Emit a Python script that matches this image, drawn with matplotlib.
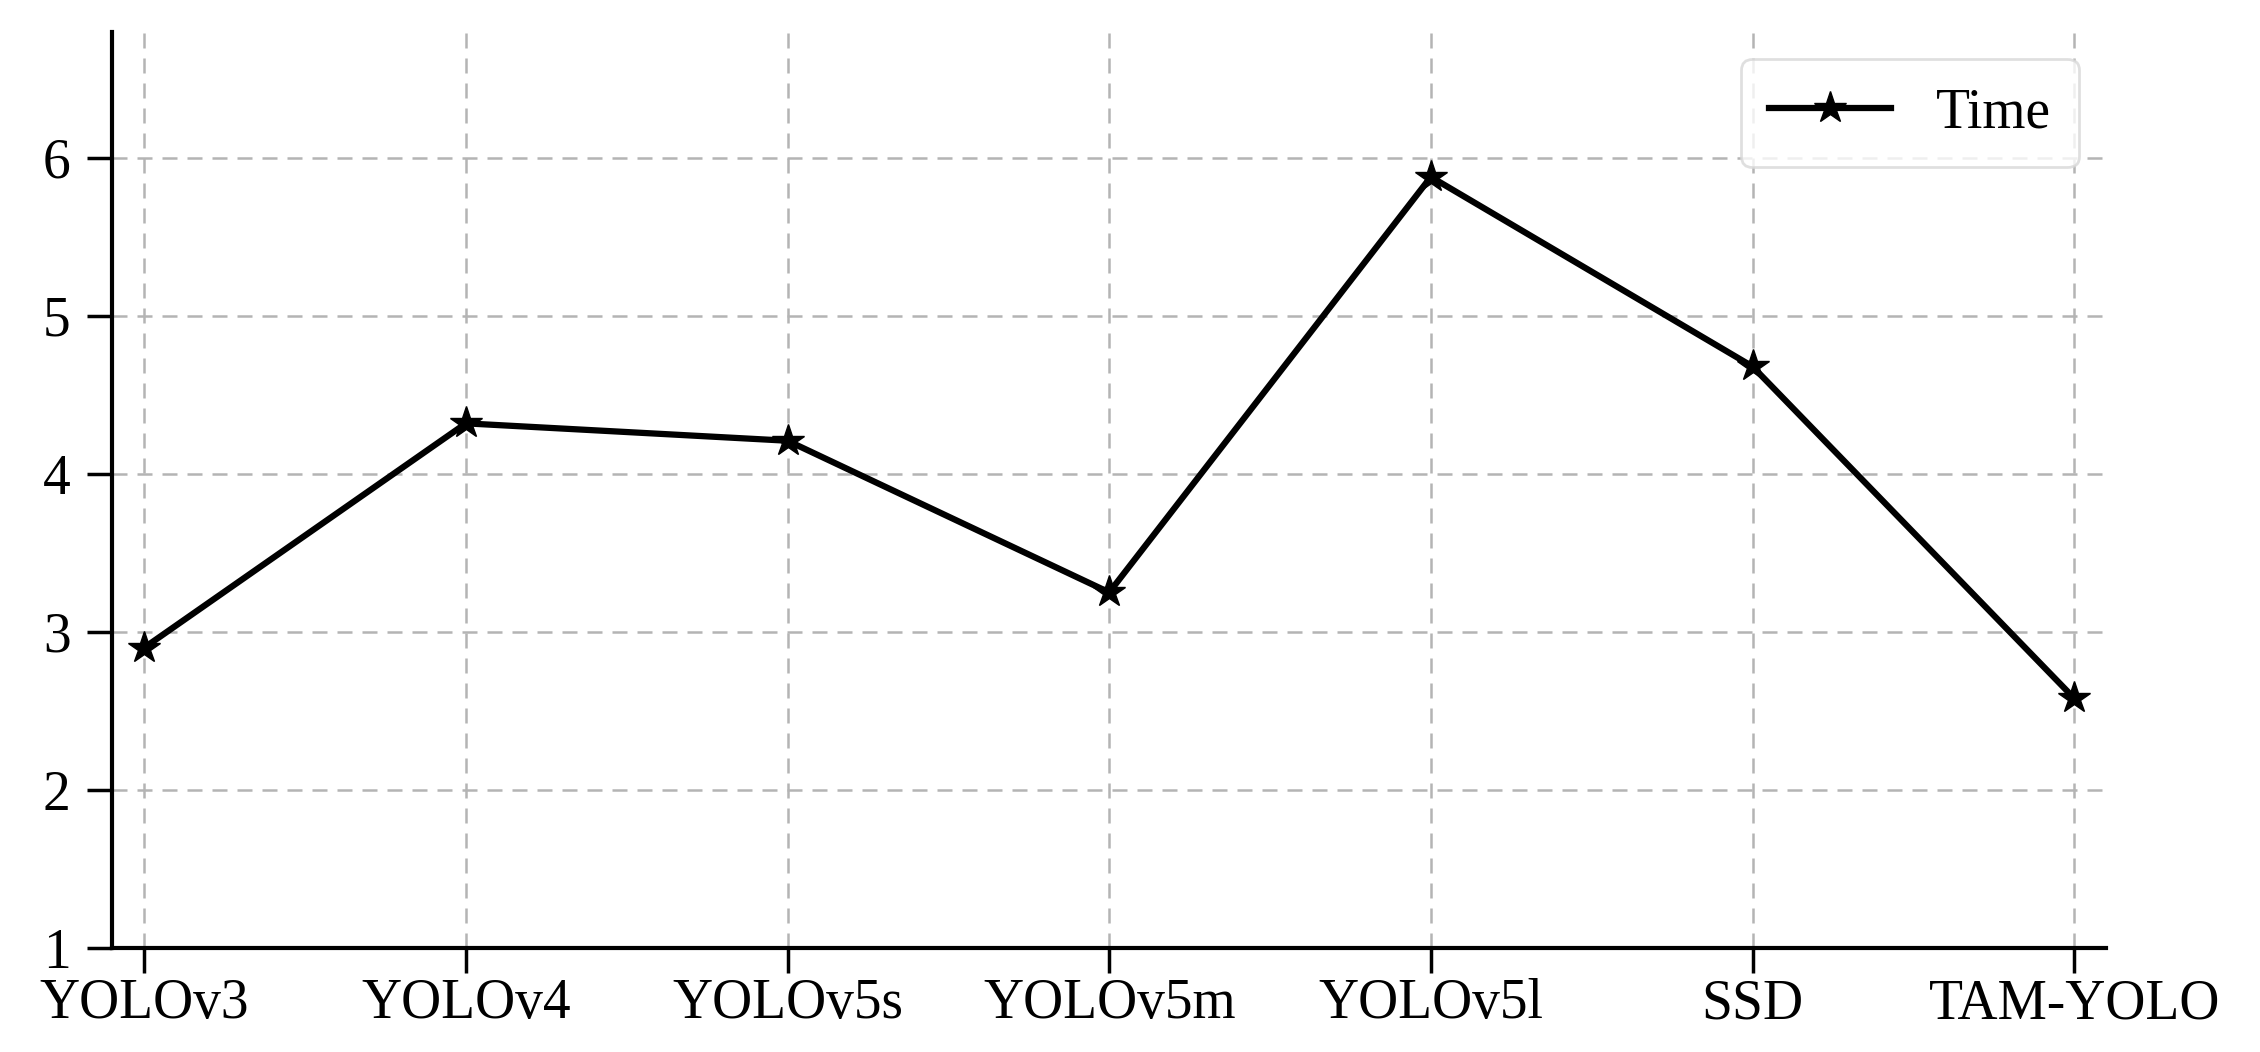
import numpy as np
import matplotlib.pyplot as plt

models = ["YOLOv3", "YOLOv4", "YOLOv5s", "YOLOv5m", "YOLOv5l", "SSD", "TAM-YOLO"]
time_vals = [2.90, 4.32, 4.21, 3.25, 5.88, 4.68, 2.58]

plt.rcParams['font.family'] = ['Liberation Serif', 'DejaVu Serif']

fig = plt.figure(figsize=(22.6, 10.52), dpi=100)
ax = fig.add_axes([0.0496, 0.099, 0.8824, 0.871])
x = np.arange(len(models))
ax.plot(x, time_vals, color='black', linewidth=4.5, marker='*', markersize=24, label='Time')

ax.set_xticks(x)
ax.set_xticklabels(models)
ax.set_yticks([1, 2, 3, 4, 5, 6])
ax.set_xlim(-0.1, 6.1)
ax.set_ylim(1, 6.8)
ax.tick_params(labelsize=40, width=2.5, length=18, color='black')
ax.tick_params(axis='y', pad=12)
ax.tick_params(axis='x', pad=4)
ax.grid(True, linestyle='--', color='#b4b4b4', linewidth=1.8, dashes=(6, 4))
for s in ['top', 'right']:
    ax.spines[s].set_visible(False)
for s in ['left', 'bottom']:
    ax.spines[s].set_linewidth(3)

leg = ax.legend(loc='upper right', fontsize=40, frameon=True, fancybox=True,
                borderpad=0.5, handlelength=2.2)
leg.get_frame().set_edgecolor('#d8d8d8')
leg.get_frame().set_linewidth(2)

fig.savefig('out.png', dpi=100)
